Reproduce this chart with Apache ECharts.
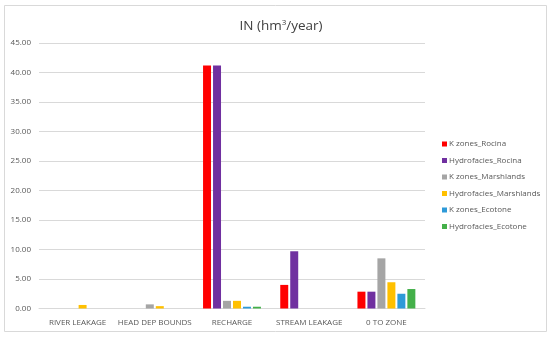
<!DOCTYPE html>
<html><head><meta charset="utf-8">
<script src="https://cdn.jsdelivr.net/npm/echarts@6/dist/echarts.min.js"></script>
<style>html,body{margin:0;padding:0;background:#fff}#c{width:550px;height:337px}</style>
</head><body><div id="c"></div>
<script>
const categories = ['RIVER LEAKAGE', 'HEAD DEP BOUNDS', 'RECHARGE', 'STREAM LEAKAGE', '0 TO ZONE'];
const seriesNames = ['K zones_Rocina', 'Hydrofacies_Rocina', 'K zones_Marshlands', 'Hydrofacies_Marshlands', 'K zones_Ecotone', 'Hydrofacies_Ecotone'];
const kZonesRocina = [0, 0, 41.2, 4.0, 2.85];
const hydrofaciesRocina = [0, 0, 41.2, 9.7, 2.85];
const kZonesMarshlands = [0, 0.7, 1.3, 0, 8.5];
const hydrofaciesMarshlands = [0.6, 0.4, 1.3, 0, 4.45];
const kZonesEcotone = [0, 0, 0.3, 0, 2.5];
const hydrofaciesEcotone = [0, 0, 0.3, 0, 3.3];
const yTicks = [0, 5, 10, 15, 20, 25, 30, 35, 40, 45];
const colors = ['#FF0000', '#7030A0', '#A5A5A5', '#FFC000', '#2E9AD8', '#44B04A'];
const values = [kZonesRocina, hydrofaciesRocina, kZonesMarshlands, hydrofaciesMarshlands, kZonesEcotone, hydrofaciesEcotone];

const chart = echarts.init(document.getElementById('c'), null, {renderer: 'canvas'});
chart.setOption({
  animation: false,
  backgroundColor: '#fff',
  graphic: [{type: 'rect', shape: {x: 4.5, y: 5.5, width: 542, height: 326}, style: {fill: 'none', stroke: '#D9D9D9', lineWidth: 1}, silent: true}],
  title: {
    text: 'IN (hm{s|3}/year)', left: 276, top: 14, textAlign: 'center',
    textStyle: {fontFamily: 'Open Sans', fontSize: 13.5, fontWeight: 'normal', color: '#404040',
      rich: {s: {fontFamily: 'Open Sans', fontSize: 8, color: '#404040', verticalAlign: 'top', padding: [0, 0, 6, 0]}}}
  },
  legend: {
    orient: 'vertical', left: 437, top: 135, itemWidth: 5, itemHeight: 5, itemGap: 8.5,
    icon: 'rect', data: seriesNames,
    textStyle: {fontFamily: 'Open Sans', fontSize: 8, color: '#595959', padding: [0, 0, 0, -3]}
  },
  grid: {left: 39, right: 125, top: 43, bottom: 28.5, containLabel: false},
  xAxis: {
    type: 'category', data: categories,
    axisLine: {lineStyle: {color: '#D9D9D9'}}, axisTick: {show: false},
    axisLabel: {fontFamily: 'Open Sans', fontSize: 8, color: '#595959', margin: 10, interval: 0}
  },
  yAxis: {
    type: 'value', min: yTicks[0], max: yTicks[yTicks.length - 1], interval: 5,
    axisLine: {show: false}, axisTick: {show: false},
    splitLine: {lineStyle: {color: '#D9D9D9'}},
    axisLabel: {fontFamily: 'Open Sans', fontSize: 8, color: '#595959', margin: 8, formatter: v => v.toFixed(2)}
  },
  series: seriesNames.map((n, i) => ({
    name: n, type: 'bar', data: values[i], barGap: '25%', barCategoryGap: '25%',
    itemStyle: {color: colors[i]}
  }))
});
</script></body></html>
